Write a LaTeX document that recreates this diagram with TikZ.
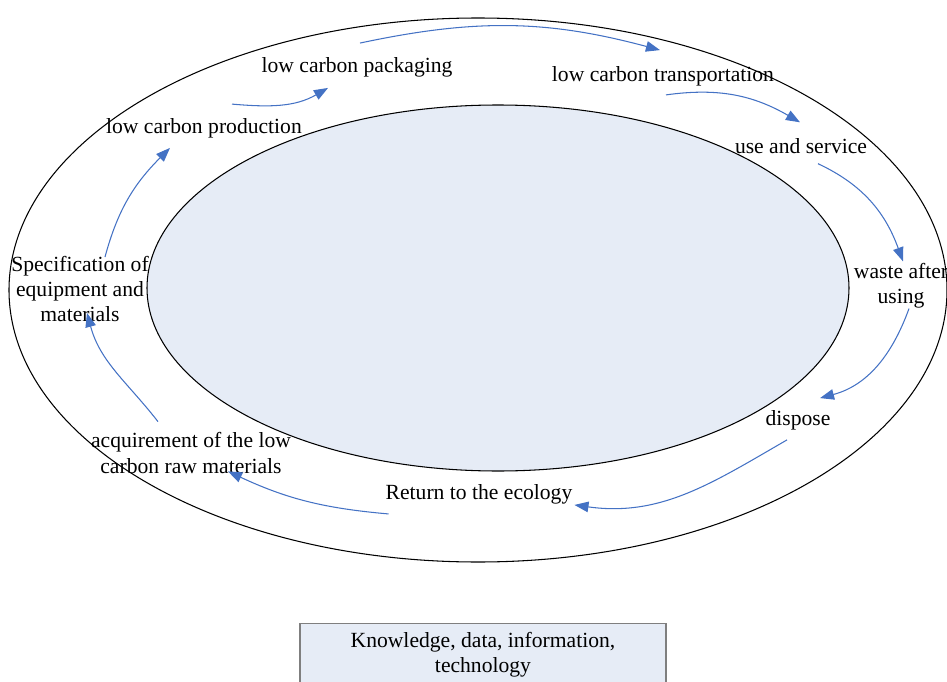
\documentclass[tikz,border=0pt]{standalone}
\usepackage{fontspec}
\setmainfont{Liberation Serif}
\usetikzlibrary{arrows.meta, positioning}
\definecolor{cflow}{HTML}{4472C4}
\definecolor{cfill}{HTML}{E6ECF6}
\definecolor{cgrey}{HTML}{7F7F7F}
\tikzset{
  every picture/.style={x=0.02cm, y=0.02cm},
  stage/.style={align=center, inner sep=1pt, font=\fontsize{12.3}{14.3}\selectfont},
  flow/.style={-{Triangle[length=8pt, width=6pt]}, draw=cflow, line width=0.6pt},
  ring/.style={draw=black, line width=0.6pt},
  infobox/.style={draw=cgrey, fill=cfill, line width=0.8pt, align=center, inner sep=0pt,
    minimum width=7.32cm, minimum height=1.26cm, font=\fontsize{12.3}{14.3}\selectfont},
}

\begin{document}
\begin{tikzpicture}
  \useasboundingbox (0,0) rectangle (947,681);
  \clip (0,0) rectangle (947,681);

  % the two rings
  \draw[ring] (478,391) ellipse [x radius=469, y radius=272];
  \draw[ring, fill=cfill] (498,393) ellipse [x radius=351, y radius=183];

  % stages of the cycle
  \node[stage] (pack) at (357,614) {low carbon packaging};
  \node[stage] (trans) at (663,605) {low carbon transportation};
  \node[stage] (prod) at (204,553) {low carbon production};
  \node[stage] (use) at (801,535) {use and service};
  \node[stage] (waste) at (901,395) {waste after\\ using};
  \node[stage] (disp) at (798,261) {dispose};
  \node[stage] (ret) at (479,187) {Return to the ecology};
  \node[stage] (acq) at (191,228) {acquirement of the low\\ carbon raw materials};
  \node[stage] (spec) at (80,392) {Specification of\\ equipment and\\ materials};

  \node[infobox] (know) at (483,26) {Knowledge, data, information,\\ technology};

  % arrows round the ring
  \draw[flow] ([shift={(28,12)}]prod.north) to[out=-5, in=210] ([shift={(-29,-9)}]pack.south);
  \draw[flow] ([shift={(3,12)}]pack.north) to[out=12, in=165] ([shift={(-3,14)}]trans.north);
  \draw[flow] ([shift={(3,-7)}]trans.south) to[out=8, in=150] ([shift={(-1,14)}]use.north);
  \draw[flow] ([shift={(17,-8)}]use.south) to[out=-25, in=110] ([shift={(2,0)}]waste.north);
  \draw[flow] ([shift={(8,2)}]waste.south) to[out=-110, in=15] ([shift={(22,10)}]disp.north);
  \draw[flow] ([shift={(-11,-8)}]disp.south) to[out=-150, in=-8] ([shift={(0,1)}]ret.south east);
  \draw[flow] ([shift={(5,-8)}]ret.south west) to[out=175, in=-25] ([shift={(37,4)}]acq.south);
  \draw[flow] ([shift={(-33,9)}]acq.north) to[out=128, in=-75] ([shift={(7,11)}]spec.south);
  \draw[flow] ([shift={(25,-3)}]spec.north) to[out=75, in=225] ([shift={(-34,-8)}]prod.south);
\end{tikzpicture}
\end{document}
